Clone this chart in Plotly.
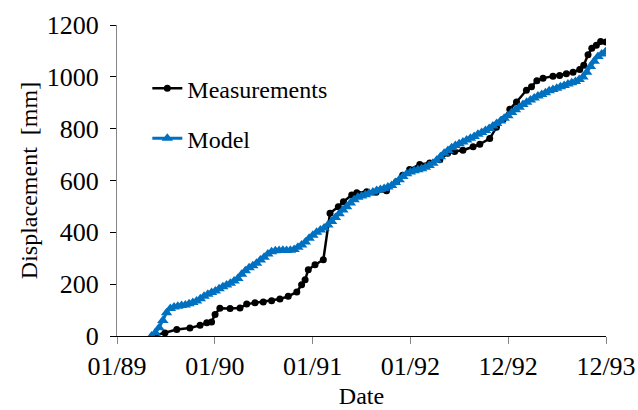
import pandas as pd
import plotly.graph_objects as go

# Measured displacement (survey dates, mm)
meas_dates = [
    "1989-05-16", "1989-06-29", "1989-08-12", "1989-09-30", "1989-11-07", "1989-12-02",
    "1989-12-20", "1990-01-02", "1990-01-20", "1990-02-27", "1990-04-05", "1990-04-30",
    "1990-05-31", "1990-07-01", "1990-08-01", "1990-09-01", "1990-10-02", "1990-11-03",
    "1990-11-21", "1990-12-04", "1990-12-16", "1991-01-10", "1991-02-10", "1991-03-07",
    "1991-04-07", "1991-04-26", "1991-05-27", "1991-06-15", "1991-07-22", "1991-08-26",
    "1991-10-04", "1991-11-10", "1991-12-03", "1991-12-29", "1992-02-05", "1992-03-13",
    "1992-04-20", "1992-05-19", "1992-06-14", "1992-07-15", "1992-08-22", "1992-09-16",
    "1992-10-23", "1992-11-17", "1992-12-12", "1993-01-06", "1993-01-31", "1993-03-09",
    "1993-03-28", "1993-04-17", "1993-05-10", "1993-06-16", "1993-07-11", "1993-08-05",
    "1993-08-30", "1993-09-24", "1993-10-09", "1993-10-25", "1993-11-08", "1993-11-25",
    "1993-12-11", "1993-12-31",
]
meas_values = [
    0, 12, 25, 31, 41, 51,
    54, 83, 107, 106, 108, 123,
    128, 131, 136, 143, 153, 170,
    198, 217, 256, 275, 294, 474,
    499, 518, 544, 553, 557, 555,
    560, 595, 620, 642, 662, 668,
    680, 705, 712, 717, 730, 740,
    762, 805, 835, 875, 903, 948,
    962, 985, 995, 1002, 1005, 1012,
    1018, 1028, 1045, 1085, 1110, 1122,
    1136, 1134,
]

# Model output, one value every 14 days from 1989-05-10
model_start = "1989-05-10"
model_step_days = 14
model_values = [
    0, 13, 32, 60, 90, 106, 112, 115, 118, 120,
    124, 129, 135, 144, 153, 161, 168, 174, 182, 190,
    197, 204, 212, 222, 238, 252, 263, 271, 281, 293,
    304, 316, 325, 329, 330, 331, 330, 331, 334, 342,
    351, 363, 377, 389, 400, 409, 417, 428, 442, 457,
    472, 486, 499, 513, 526, 535, 540, 545, 551, 556,
    561, 565, 569, 575, 581, 592, 603, 615, 626, 633,
    638, 641, 645, 651, 658, 667, 678, 692, 705, 716,
    726, 735, 742, 749, 756, 763, 770, 778, 785, 793,
    801, 810, 820, 830, 840, 850, 862, 873, 883, 893,
    902, 911, 918, 926, 932, 939, 946, 951, 956, 962,
    967, 972, 977, 982, 990, 999, 1018, 1040, 1060, 1078,
    1088, 1097,
]
model_dates = pd.date_range(model_start, periods=len(model_values),
                            freq=f"{model_step_days}D")

# Axis ticks every 365 days
tick_dates = ["1989-01-01", "1990-01-01", "1991-01-01", "1992-01-01",
              "1992-12-31", "1993-12-31"]
tick_labels = ["01/89", "01/90", "01/91", "01/92", "12/92", "12/93"]
y_ticks = [0, 200, 400, 600, 800, 1000, 1200]

FONT = "Liberation Serif"
FS = 24
TICK_FS = 26
BLUE = "#0070C0"

fig = go.Figure()
# measurements first so the model band is drawn over them
fig.add_trace(go.Scatter(
    x=pd.to_datetime(meas_dates), y=meas_values, name="Measurements",
    mode="lines+markers",
    line=dict(color="black", width=2.5),
    marker=dict(symbol="circle", size=7, color="black"),
    legendgroup="a", legendrank=1,
))
fig.add_trace(go.Scatter(
    x=model_dates, y=model_values, name="Model", mode="lines+markers",
    line=dict(color=BLUE, width=3),
    marker=dict(symbol="triangle-up", size=10, color=BLUE),
    legendgroup="m", legendrank=2,
))

fig.update_layout(
    width=638, height=410,
    margin=dict(l=117, r=32, t=24.5, b=73.5),
    paper_bgcolor="white", plot_bgcolor="white",
    font=dict(family=FONT, size=FS, color="black"),
    showlegend=True,
    legend=dict(
        x=0.062, y=0.868, xanchor="left", yanchor="top",
        bgcolor="rgba(0,0,0,0)", itemwidth=30, tracegroupgap=16,
        font=dict(family=FONT, size=FS, color="black"),
    ),
    xaxis=dict(
        type="date", range=["1989-01-01", "1993-12-31"],
        tickmode="array", tickvals=tick_dates, ticktext=tick_labels,
        tickfont=dict(family=FONT, size=TICK_FS, color="black"),
        showgrid=False, zeroline=False,
        showline=True, linecolor="black", linewidth=1,
        ticks="outside", ticklen=7, tickcolor="#868686", tickwidth=1,
        title=dict(text="Date", standoff=6,
                   font=dict(family=FONT, size=FS, color="black")),
        automargin=False,
    ),
    yaxis=dict(
        range=[0, 1200], tickvals=y_ticks,
        tickfont=dict(family=FONT, size=TICK_FS, color="black"),
        ticklabelstandoff=6,
        showgrid=False, zeroline=False,
        showline=True, linecolor="#868686", linewidth=1,
        ticks="outside", ticklen=6, tickcolor="black", tickwidth=1,
        title=dict(text="Displacement  [mm]", standoff=2,
                   font=dict(family=FONT, size=FS, color="black")),
        automargin=False,
    ),
)

fig.write_html("out.html")
